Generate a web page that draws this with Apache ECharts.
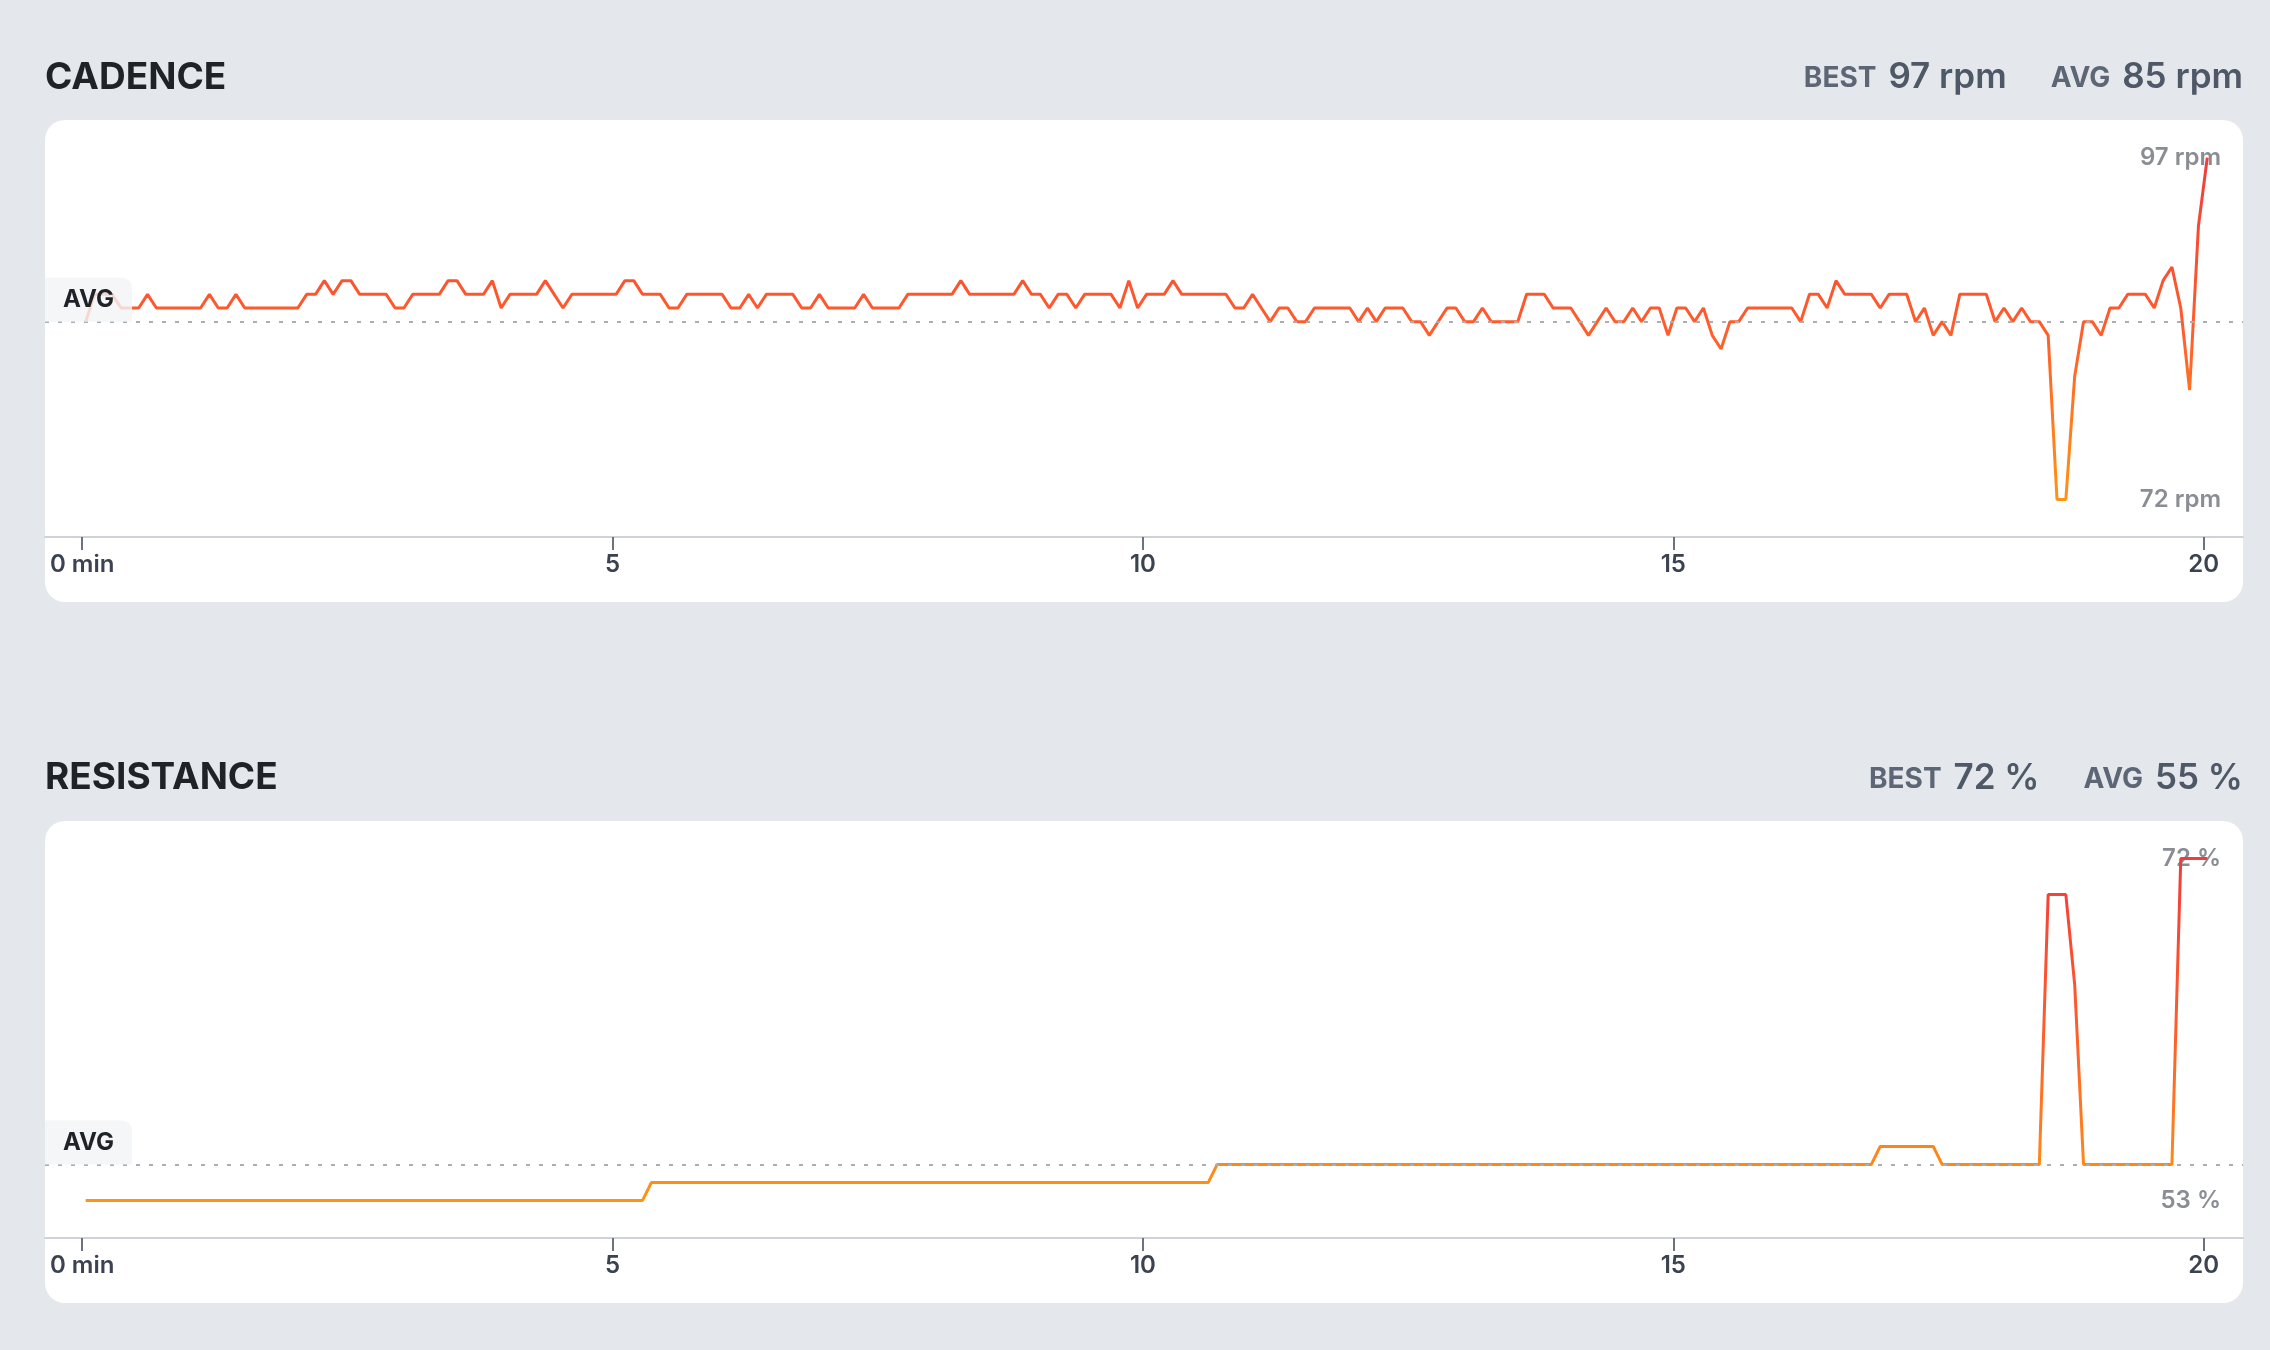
<!DOCTYPE html>
<html>
<head>
<meta charset="utf-8">
<script src="https://cdn.jsdelivr.net/npm/echarts@6/dist/echarts.min.js"></script>
<style>
html,body{margin:0;padding:0;background:#e4e8ed;}
#chart{width:2270px;height:1350px;}
</style>
</head>
<body>
<div id="chart"></div>
<script>
// ---- data ----
const startSeconds = 2;
const sampleSeconds = 5;

const cadence = [
  85,87,87,87,86,86,86,87,86,86,86,86,86,86,87,86,86,87,86,86,
  86,86,86,86,86,87,87,88,87,88,88,87,87,87,87,86,86,87,87,87,
  87,88,88,87,87,87,88,86,87,87,87,87,88,87,86,87,87,87,87,87,
  87,88,88,87,87,87,86,86,87,87,87,87,87,86,86,87,86,87,87,87,
  87,86,86,87,86,86,86,86,87,86,86,86,86,87,87,87,87,87,87,88,
  87,87,87,87,87,87,88,87,87,86,87,87,86,87,87,87,87,86,88,86,
  87,87,87,88,87,87,87,87,87,87,86,86,87,86,85,86,86,85,85,86,
  86,86,86,86,85,86,85,86,86,86,85,85,84,85,86,86,85,85,86,85,
  85,85,85,87,87,87,86,86,86,85,84,85,86,85,85,86,85,86,86,84,
  86,86,85,86,84,83,85,85,86,86,86,86,86,86,85,87,87,86,88,87,
  87,87,87,86,87,87,87,85,86,84,85,84,87,87,87,87,85,86,85,86,
  85,85,84,72,72,81,85,85,84,86,86,87,87,87,86,88,89,86,80,92,97
];

const resistance = [
  53,53,53,53,53,53,53,53,53,53,53,53,53,53,53,53,53,53,53,53,
  53,53,53,53,53,53,53,53,53,53,53,53,53,53,53,53,53,53,53,53,
  53,53,53,53,53,53,53,53,53,53,53,53,53,53,53,53,53,53,53,53,
  53,53,53,53,54,54,54,54,54,54,54,54,54,54,54,54,54,54,54,54,
  54,54,54,54,54,54,54,54,54,54,54,54,54,54,54,54,54,54,54,54,
  54,54,54,54,54,54,54,54,54,54,54,54,54,54,54,54,54,54,54,54,
  54,54,54,54,54,54,54,54,55,55,55,55,55,55,55,55,55,55,55,55,
  55,55,55,55,55,55,55,55,55,55,55,55,55,55,55,55,55,55,55,55,
  55,55,55,55,55,55,55,55,55,55,55,55,55,55,55,55,55,55,55,55,
  55,55,55,55,55,55,55,55,55,55,55,55,55,55,55,55,55,55,55,55,
  55,55,55,56,56,56,56,56,56,56,55,55,55,55,55,55,55,55,55,55,
  55,55,70,70,70,65,55,55,55,55,55,55,55,55,55,55,55,72,72,72,72
];

const cadenceAvg = 85;
const resistanceAvg = 55;
const xTickValues = [0, 5, 10, 15, 20];

// ---- helpers ----
const FONT = 'Inter';
const times = cadence.map((_, i) => (startSeconds + i * sampleSeconds) / 60);

function range(arr) {
  const lo = Math.min(...arr), hi = Math.max(...arr);
  const pad = (hi - lo) * 0.11;
  return { lo, hi, min: lo - pad, max: hi + pad };
}
const cR = range(cadence);
const rR = range(resistance);

const lineGradient = {
  type: 'linear', x: 0, y: 1, x2: 0, y2: 0,
  colorStops: [
    { offset: 0, color: '#ff9414' },
    { offset: 0.5, color: '#ff5d2c' },
    { offset: 1, color: '#f23b3b' }
  ]
};

const CARD_L = 45, CARD_R = 2243, CARD_W = CARD_R - CARD_L;
const GRID_H = 417;
const cardTops = [120, 821];
const titleYs = [78, 778];
const headerYs = [75, 776];

function xAxisFor(gi) {
  return {
    gridIndex: gi, type: 'value', min: -0.35, max: 20.37,
    splitLine: { show: false },
    axisLine: { show: true, lineStyle: { color: '#cfd3d8', width: 2 } },
    axisTick: { show: true, customValues: xTickValues, length: 13, lineStyle: { color: '#6b7280', width: 2 } },
    axisLabel: {
      customValues: xTickValues, margin: 16,
      formatter: v => (v === 0 ? '0 min' : String(v)),
      color: '#3b4250', fontFamily: FONT, fontWeight: 600, fontSize: 24
    }
  };
}
function yAxisFor(gi, r, unit) {
  return {
    gridIndex: gi, type: 'value', position: 'right', min: r.min, max: r.max,
    splitLine: { show: false }, axisLine: { show: false }, axisTick: { show: false },
    axisLabel: {
      inside: true, margin: 22, customValues: [r.lo, r.hi],
      formatter: v => v + ' ' + unit,
      color: '#8a8d93', fontFamily: FONT, fontWeight: 600, fontSize: 24
    }
  };
}
function seriesFor(gi, values, avg) {
  return {
    type: 'line', xAxisIndex: gi, yAxisIndex: gi,
    data: values.map((v, i) => [times[i], v]),
    showSymbol: false, symbol: 'none', smooth: false,
    lineStyle: { width: 3, color: lineGradient },
    silent: true,
    markLine: {
      silent: true, symbol: 'none',
      lineStyle: { color: '#a9aeb5', width: 2, type: [4, 9] },
      label: {
        show: true, position: 'insideStartTop', distance: [0, 0],
        formatter: 'AVG',
        color: '#1f2328', fontFamily: FONT, fontWeight: 700, fontSize: 24,
        backgroundColor: 'rgba(243,244,246,0.82)',
        padding: [10, 18, 10, 18], borderRadius: [0, 10, 0, 0]
      },
      emphasis: { disabled: true },
      data: [{ yAxis: avg }]
    }
  };
}
function header(i, title, best, avg, unit) {
  return [
    { type: 'text', x: CARD_L, y: titleYs[i], z: 10,
      style: { text: title, fill: '#1f2328', fontFamily: FONT, fontWeight: 700, fontSize: 37, verticalAlign: 'middle', align: 'left' } },
    { type: 'text', x: CARD_R, y: headerYs[i], z: 10,
      style: {
        text: '{l|BEST}{s| }{v|' + best + ' ' + unit + '}{g| }{l|AVG}{s| }{v|' + avg + ' ' + unit + '}',
        align: 'right', verticalAlign: 'middle',
        rich: {
          l: { fill: '#5d6675', fontFamily: FONT, fontWeight: 700, fontSize: 28, lineHeight: 40, verticalAlign: 'bottom', padding: [0, 0, 2, 0] },
          v: { fill: '#4f5866', fontFamily: FONT, fontWeight: 600, fontSize: 35, lineHeight: 40, verticalAlign: 'bottom' },
          s: { fontSize: 10, width: 12, lineHeight: 40 },
          g: { fontSize: 10, width: 44, lineHeight: 40 }
        }
      } }
  ];
}

const chart = echarts.init(document.getElementById('chart'));
chart.setOption({
  animation: false,
  backgroundColor: '#e4e8ed',
  graphic: {
    elements: [
      { type: 'rect', z: -10, shape: { x: CARD_L, y: cardTops[0], width: CARD_W, height: 482, r: 20 }, style: { fill: '#ffffff' } },
      { type: 'rect', z: -10, shape: { x: CARD_L, y: cardTops[1], width: CARD_W, height: 482, r: 20 }, style: { fill: '#ffffff' } },
      ...header(0, 'CADENCE', Math.max(...cadence), cadenceAvg, 'rpm'),
      ...header(1, 'RESISTANCE', Math.max(...resistance), resistanceAvg, '%')
    ]
  },
  grid: [
    { left: CARD_L, right: 2270 - CARD_R, top: cardTops[0], height: GRID_H },
    { left: CARD_L, right: 2270 - CARD_R, top: cardTops[1], height: GRID_H }
  ],
  xAxis: [xAxisFor(0), xAxisFor(1)],
  yAxis: [yAxisFor(0, cR, 'rpm'), yAxisFor(1, rR, '%')],
  series: [seriesFor(0, cadence, cadenceAvg), seriesFor(1, resistance, resistanceAvg)]
});
</script>
</body>
</html>
